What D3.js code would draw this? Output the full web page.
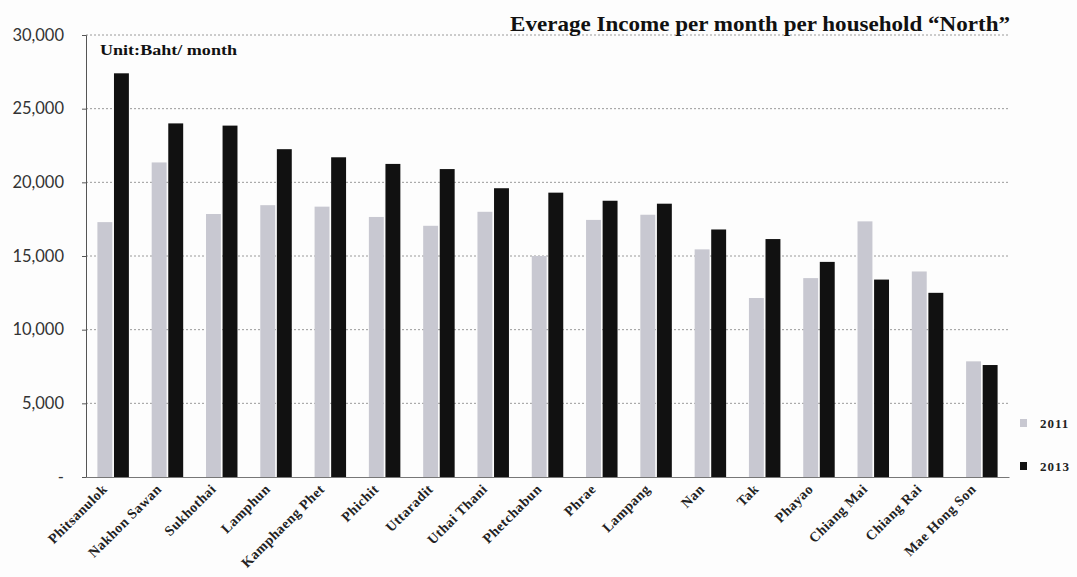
<!DOCTYPE html>
<html><head><meta charset="utf-8">
<script src="https://cdn.jsdelivr.net/npm/d3@7"></script>
<style>body{margin:0;background:#fdfdfd}svg{display:block}</style>
</head><body><svg id="c" width="1077" height="577"></svg>
<script>
const categories = ["Phitsanulok","Nakhon Sawan","Sukhothai","Lamphun","Kamphaeng Phet","Phichit","Uttaradit","Uthai Thani","Phetchabun","Phrae","Lampang","Nan","Tak","Phayao","Chiang Mai","Chiang Rai","Mae Hong Son"];
const values2011 = [17300,21350,17850,18450,18350,17650,17050,18000,15000,17450,17800,15450,12150,13500,17350,13950,7850];
const values2013 = [27400,24000,23850,22250,21700,21250,20900,19600,19300,18750,18550,16800,16150,14600,13400,12500,7600];
const seriesNames = ["2011","2013"];
const yTicks = [0,5000,10000,15000,20000,25000,30000];
const titleText = "Everage Income per month per household \u201cNorth\u201d";
const unitText = "Unit:Baht/ month";

const svg = d3.select("#c");
const m = {l:86, r:1009, t:35, b:477};
const x = d3.scaleBand().domain(categories).range([m.l, m.r]).paddingInner(0.42).paddingOuter(0.21);
const xs = d3.scaleBand().domain(seriesNames).range([0, x.bandwidth()]).paddingInner(0.1);
const y = d3.scaleLinear().domain([0,30000]).range([m.b, m.t]);
const colors = {"2011":"#c8c8d1","2013":"#111111"};
const serif = "'Liberation Serif', 'Times New Roman', serif";

// grid
svg.append("g").selectAll("line").data(yTicks.filter(d=>d>0)).join("line")
  .attr("x1", m.l).attr("x2", m.r).attr("y1", d=>y(d)).attr("y2", d=>y(d))
  .attr("stroke", "#9a9a9a").attr("stroke-width", 1).attr("stroke-dasharray", "2,2");

// y axis
const ya = d3.axisLeft(y).tickValues(yTicks).tickSize(4)
  .tickFormat(d => d === 0 ? "-" : d3.format(",")(d));
const yg = svg.append("g").attr("transform", `translate(${m.l},0)`).call(ya);
yg.select(".domain").attr("stroke", "#555");
yg.selectAll(".tick line").attr("stroke", "#555");
yg.selectAll(".tick text").attr("x", -22).attr("font-family", "Lato, 'Open Sans', sans-serif")
  .attr("font-size", 16.5).attr("fill", "#333");

// bars
const groups = svg.append("g").selectAll("g").data(categories).join("g")
  .attr("transform", d => `translate(${x(d)},0)`);
groups.selectAll("rect").data((d,i) => [{s:"2011", v:values2011[i]},{s:"2013", v:values2013[i]}]).join("rect")
  .attr("x", d => xs(d.s)).attr("width", xs.bandwidth())
  .attr("y", d => y(d.v)).attr("height", d => y(0) - y(d.v))
  .attr("fill", d => colors[d.s]);

// x axis
const xa = d3.axisBottom(x).tickSize(0).tickPadding(0);
const xg = svg.append("g").attr("transform", `translate(0,${m.b})`).call(xa);
xg.select(".domain").attr("stroke", "#777");
xg.selectAll(".tick text")
  .attr("font-family", serif).attr("font-weight", "bold")
  .attr("font-size", 14).attr("letter-spacing", 0.5).attr("fill", "#222")
  .attr("text-anchor", "end").attr("dy", 0)
  .attr("transform", "translate(-5,13) rotate(-45)");

// title
svg.append("text").attr("x", 510).attr("y", 31)
  .attr("font-family", serif).attr("font-weight", "bold")
  .attr("font-size", 21).attr("textLength", 500).attr("lengthAdjust", "spacingAndGlyphs")
  .attr("fill", "#111").text(titleText);
svg.append("text").attr("x", 100).attr("y", 55)
  .attr("font-family", serif).attr("font-weight", "bold")
  .attr("font-size", 15).attr("textLength", 137).attr("lengthAdjust", "spacingAndGlyphs")
  .attr("fill", "#111").text(unitText);

// legend
const lg = svg.append("g").selectAll("g").data(seriesNames).join("g")
  .attr("transform", (d,i) => `translate(1020,${425 + i*43})`);
lg.append("rect").attr("x", 0).attr("y", -6).attr("width", 7).attr("height", 8).attr("fill", d => colors[d]);
lg.append("text").attr("x", 20).attr("y", 3)
  .attr("font-family", serif).attr("font-weight", "bold")
  .attr("font-size", 13).attr("letter-spacing", 1).attr("fill", "#222").text(d => d);
</script></body></html>
